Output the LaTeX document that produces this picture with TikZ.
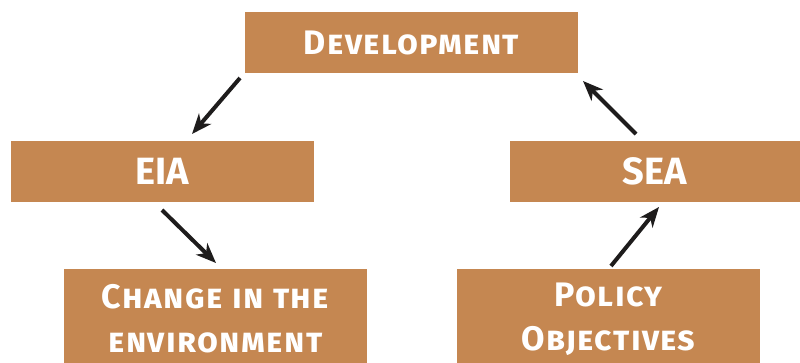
\documentclass[tikz,border=0pt]{standalone}
\usepackage{fontspec}
\setmainfont{Fira Sans}[UprightFont={* Bold}]
\usetikzlibrary{arrows.meta}
\definecolor{boxbrown}{RGB}{197,135,81}
\definecolor{arrowblack}{RGB}{30,28,28}
\begin{document}
\begin{tikzpicture}[x=1pt,y=-1pt,
  boxstyle/.style={fill=boxbrown, draw=none, text=white, inner sep=0pt,
     font=\fontsize{34}{41}\selectfont\addfontfeatures{Letters=SmallCaps,LetterSpace=4}, align=center},
  flowarrow/.style={draw=arrowblack, line width=4pt,
     -{Stealth[length=20pt,width=16pt,inset=6pt]}}]
\useasboundingbox (0,0) rectangle (800,363);
\node[boxstyle, minimum width=333pt, minimum height=61pt] (dev) at (411.5,42.5) {Development};
\node[boxstyle, minimum width=303pt, minimum height=61pt, font=\fontsize{38}{41}\selectfont] (eia) at (162.5,171.5) {EIA};
\node[boxstyle, minimum width=290pt, minimum height=61pt, font=\fontsize{38}{41}\selectfont] (sea) at (655,171.5) {SEA};
\node[boxstyle, minimum width=303pt, minimum height=100pt, anchor=north] (chg) at (215.5,269) {};
\node[boxstyle] (chgt) at (215.5,319) {Change in the\\[3pt]environment};
\node[boxstyle, minimum width=303pt, minimum height=100pt, anchor=north] (pol) at (608.5,269) {};
\node[boxstyle] (polt) at (608.5,319) {Policy\\[3pt]Objectives};
\coordinate (a1s) at (240,78);  \coordinate (a1e) at (192,134);
\coordinate (a2s) at (162,210); \coordinate (a2e) at (216,263);
\coordinate (a3s) at (611,266); \coordinate (a3e) at (659,207);
\coordinate (a4s) at (636,134); \coordinate (a4e) at (583,81);
\draw[flowarrow] (a1s) -- (a1e);
\draw[flowarrow] (a2s) -- (a2e);
\draw[flowarrow] (a3s) -- (a3e);
\draw[flowarrow] (a4s) -- (a4e);
\end{tikzpicture}
\end{document}
